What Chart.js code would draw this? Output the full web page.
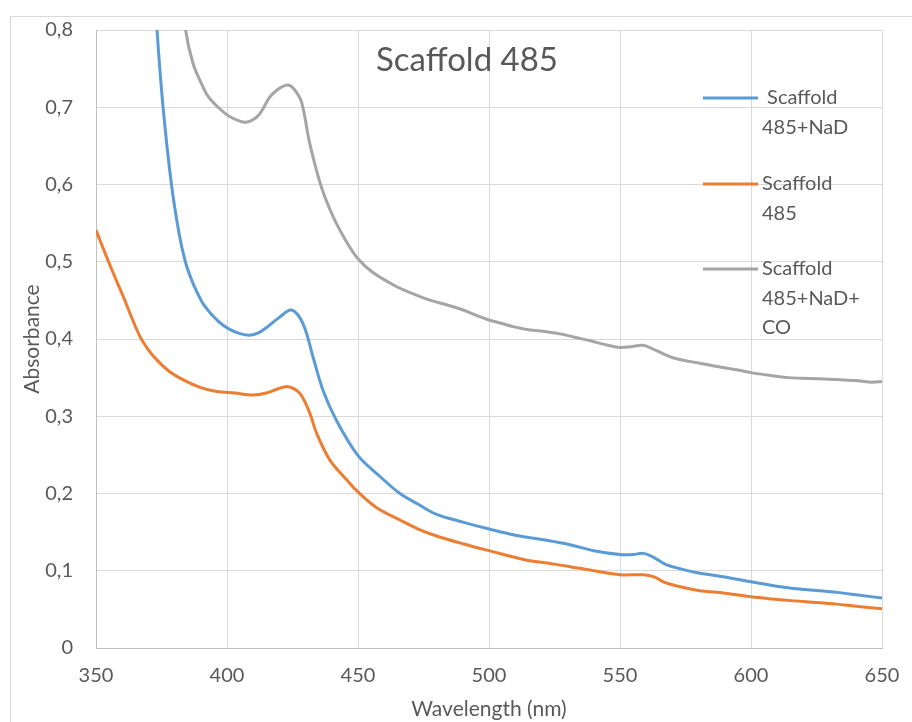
<!DOCTYPE html>
<html>
<head>
<meta charset="utf-8">
<script src="https://cdn.jsdelivr.net/npm/chart.js@4.4.1/dist/chart.umd.min.js"></script>
<style>
  html, body { margin: 0; padding: 0; background: #fff; }
</style>
</head>
<body>
<canvas id="spectrumChart" width="912" height="722"></canvas>
<script>
// --- Data
const xTicks = [350, 400, 450, 500, 550, 600, 650];
const yTicks = [0, 0.1, 0.2, 0.3, 0.4, 0.5, 0.6, 0.7, 0.8];

// Scaffold 485+NaD
const nadWave = [372.5, 373.3, 375.6, 378.8, 381.7, 384.1, 386.2, 388.5, 391.5, 396.6, 401, 405, 408.7, 412, 415, 420, 424.6, 429, 432.8, 436.6, 441.7, 450, 458.4, 466, 473, 480, 490, 500, 510, 520.9, 530.5, 540, 550, 555, 559, 563, 567, 571.4, 580, 590, 600, 608, 616.4, 625, 632.8, 640, 650];
const nadAbs = [0.86, 0.80, 0.70, 0.60, 0.537, 0.50, 0.479, 0.461, 0.4425, 0.4231, 0.4124, 0.407, 0.405, 0.408, 0.4146, 0.428, 0.4375, 0.42, 0.377, 0.334, 0.295, 0.249, 0.222, 0.2, 0.186, 0.173, 0.163, 0.154, 0.146, 0.140, 0.134, 0.126, 0.121, 0.121, 0.1225, 0.117, 0.109, 0.104, 0.097, 0.092, 0.0857, 0.081, 0.077, 0.0745, 0.072, 0.069, 0.0646];

// Scaffold 485
const baseWave = [350, 353, 356, 360.4, 363, 366.8, 370, 373.2, 378, 383.3, 390, 396, 403, 410, 415, 419, 423.3, 427.8, 431.6, 434.2, 439.2, 445.6, 450, 457, 466.4, 473, 480, 490, 500, 514, 522, 530.5, 540, 550, 559, 563, 567, 571.4, 580, 590, 600, 608, 616.4, 625, 632.8, 640, 650];
const baseAbs = [0.541, 0.515, 0.49, 0.455, 0.433, 0.403, 0.386, 0.373, 0.358, 0.347, 0.337, 0.332, 0.330, 0.3275, 0.330, 0.335, 0.3383, 0.3296, 0.304, 0.278, 0.2435, 0.218, 0.202, 0.182, 0.165, 0.154, 0.145, 0.135, 0.126, 0.114, 0.110, 0.1056, 0.1, 0.0948, 0.0948, 0.092, 0.085, 0.0806, 0.0745, 0.071, 0.0663, 0.0635, 0.061, 0.059, 0.0568, 0.054, 0.0508];

// Scaffold 485+NaD+CO
const coWave = [383.5, 384.2, 387, 390.2, 393, 396.6, 401, 406.5, 409.5, 412.5, 416.3, 419, 421, 423.3, 425.5, 428.4, 431.6, 436, 440.5, 445.6, 450, 455.7, 464.6, 470, 477.4, 484, 490.1, 495, 500, 505, 509.2, 515, 521.9, 528.2, 533, 538.4, 544, 550, 554, 558.8, 562, 566.4, 571, 576.5, 583, 589.3, 595, 600, 607, 614.6, 622, 629.9, 635, 641, 646, 650];
const coAbs = [0.84, 0.80, 0.757, 0.731, 0.713, 0.70, 0.688, 0.6807, 0.683, 0.6915, 0.7131, 0.722, 0.7265, 0.7288, 0.724, 0.7072, 0.653, 0.597, 0.5585, 0.526, 0.504, 0.486, 0.468, 0.460, 0.4504, 0.444, 0.4375, 0.431, 0.4246, 0.42, 0.416, 0.412, 0.4095, 0.406, 0.402, 0.398, 0.393, 0.389, 0.390, 0.392, 0.388, 0.381, 0.375, 0.371, 0.367, 0.363, 0.360, 0.3565, 0.353, 0.350, 0.349, 0.348, 0.347, 0.346, 0.344, 0.345];

const seriesLabels = [[" Scaffold", "485+NaD"], ["Scaffold", "485"], ["Scaffold", "485+NaD+", "CO"]];
const seriesColors = ["#5b9bd5", "#ed7d31", "#a5a5a5"];
const chartTitle = "Scaffold 485";

const FONT = "Lato, 'Open Sans', sans-serif";
const TEXT = "#595959";

function toPoints(xs, ys) {
  return xs.map((x, i) => ({ x: x, y: ys[i] }));
}

// --- Plugin: outer frame, title inside plot, legend on the right
const decorPlugin = {
  id: 'decor',
  beforeDraw(chart) {
    const ctx = chart.ctx;
    ctx.save();
    ctx.fillStyle = '#fff';
    ctx.fillRect(0, 0, chart.width, chart.height);
    ctx.strokeStyle = '#d9d9d9';
    ctx.lineWidth = 1;
    ctx.strokeRect(10.5, 16.5, 1000, 1000);
    ctx.restore();
  },
  afterDraw(chart) {
    const ctx = chart.ctx;
    ctx.save();
    // title
    ctx.font = '33px ' + FONT;
    ctx.fillStyle = TEXT;
    ctx.textAlign = 'center';
    ctx.textBaseline = 'middle';
    ctx.fillText(chartTitle, 467, 60);

    // legend
    ctx.font = '20px ' + FONT;
    ctx.textAlign = 'left';
    const rows = [98, 184, 269];
    chart.data.datasets.forEach((ds, i) => {
      const y = rows[i];
      ctx.strokeStyle = ds.borderColor;
      ctx.lineWidth = 3;
      ctx.beginPath();
      ctx.moveTo(703, y);
      ctx.lineTo(758, y);
      ctx.stroke();
      ctx.fillStyle = TEXT;
      seriesLabels[i].forEach((line, j) => {
        ctx.fillText(line, 762, y + j * 29.5);
      });
    });
    ctx.restore();
  }
};

const ctxSpec = document.getElementById("spectrumChart").getContext("2d");
const spectrumChart = new Chart(ctxSpec, {
  type: "line",
  data: {
    datasets: [
      { label: seriesLabels[0].join(" "), data: toPoints(nadWave, nadAbs), borderColor: seriesColors[0] },
      { label: seriesLabels[1].join(" "), data: toPoints(baseWave, baseAbs), borderColor: seriesColors[1] },
      { label: seriesLabels[2].join(" "), data: toPoints(coWave, coAbs), borderColor: seriesColors[2] }
    ]
  },
  options: {
    responsive: false,
    animation: false,
    devicePixelRatio: 1,
    layout: { padding: { top: 30, right: 30, left: 0, bottom: 0 } },
    elements: {
      line: { borderWidth: 3, tension: 0.35, fill: false },
      point: { radius: 0 }
    },
    plugins: { legend: { display: false }, tooltip: { enabled: false } },
    scales: {
      x: {
        type: 'linear',
        min: xTicks[0], max: xTicks[xTicks.length - 1],
        afterBuildTicks: (s) => { s.ticks = xTicks.map(v => ({ value: v })); },
        afterFit: (s) => { s.height = 74; s.paddingLeft = 0; s.paddingRight = 0; },
        grid: { color: '#d9d9d9', lineWidth: 1, drawTicks: false },
        border: { color: '#bfbfbf', width: 1 },
        ticks: { color: TEXT, font: { family: FONT, size: 20 }, padding: 16, maxRotation: 0 },
        title: { display: true, text: 'Wavelength (nm)', color: TEXT, font: { family: FONT, size: 21 }, padding: { top: 0, bottom: 0 } }
      },
      y: {
        min: yTicks[0], max: yTicks[yTicks.length - 1],
        afterBuildTicks: (s) => { s.ticks = yTicks.map(v => ({ value: v })); },
        afterFit: (s) => { s.width = 96; s.paddingTop = 0; s.paddingBottom = 0; },
        grid: { color: '#d9d9d9', lineWidth: 1, drawTicks: false },
        border: { color: '#bfbfbf', width: 1 },
        ticks: {
          color: TEXT, font: { family: FONT, size: 20 }, padding: 23,
          callback: (v) => v === 0 ? '0' : v.toFixed(1).replace('.', ',')
        },
        title: { display: true, text: 'Absorbance', color: TEXT, font: { family: FONT, size: 21 }, padding: { top: 20, bottom: 0 } }
      }
    }
  },
  plugins: [decorPlugin]
});
</script>
</body>
</html>
